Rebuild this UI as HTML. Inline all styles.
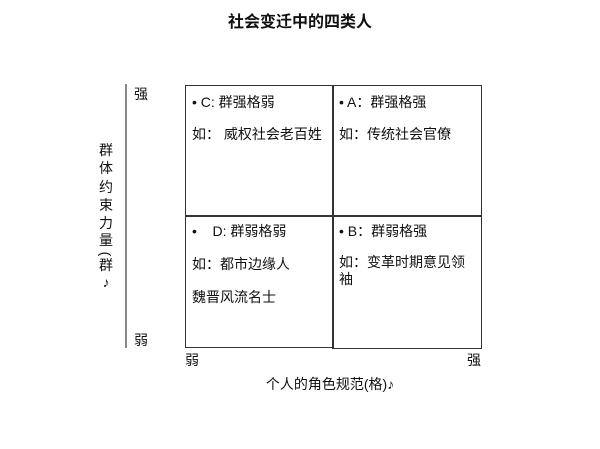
<!DOCTYPE html>
<html><head><meta charset="utf-8"><style>
body{margin:0;width:600px;height:449px;background:#fff;position:relative;font-family:"Liberation Sans","Noto Sans CJK SC",sans-serif;color:#111;overflow:hidden}
.a{position:absolute;white-space:nowrap;font-size:13px;line-height:16px}
.v{position:absolute;left:98px;width:16px;text-align:center;font-size:14px;line-height:16px}
.box{position:absolute;border:1.5px solid #333;box-sizing:border-box}
</style></head><body>
<div class="a" style="left:0;width:600px;text-align:center;top:13px;font-size:16px;font-weight:bold;line-height:20px">社会变迁中的四类人</div>
<div style="position:absolute;left:125px;top:84px;width:2px;height:264px;background:#888"></div>
<div class="box" style="left:185px;top:85px;width:149px;height:132px"></div>
<div class="box" style="left:332px;top:85px;width:150px;height:132px"></div>
<div class="box" style="left:185px;top:215px;width:149px;height:133px"></div>
<div class="box" style="left:332px;top:215px;width:150px;height:134px"></div>
<div class="a" style="left:192px;top:94px;font-size:14px">• C: 群强格弱</div>
<div class="a" style="left:192px;top:126px;font-size:14px">如： 威权社会老百姓</div>
<div class="a" style="left:339px;top:94px;font-size:14px">• A：群强格强</div>
<div class="a" style="left:339px;top:126px;font-size:14px">如：传统社会官僚</div>
<div class="a" style="left:192px;top:223px;font-size:14px">•&nbsp;&nbsp;&nbsp;&nbsp;D: 群弱格弱</div>
<div class="a" style="left:192px;top:256px;font-size:14px">如：都市边缘人</div>
<div class="a" style="left:192px;top:289px;font-size:14px">魏晋风流名士</div>
<div class="a" style="left:339px;top:223px;font-size:14px">• B：群弱格强</div>
<div class="a" style="left:339px;top:254px;font-size:14px">如：变革时期意见领</div>
<div class="a" style="left:339px;top:271px;font-size:14px">袖</div>
<div class="a" style="left:134px;top:86px;font-size:14px">强</div>
<div class="a" style="left:134px;top:332px;font-size:14px">弱</div>
<div class="a" style="left:185px;top:352px;font-size:14px">弱</div>
<div class="a" style="left:467px;top:352px;font-size:14px">强</div>
<div class="v" style="top:142px">群</div>
<div class="v" style="top:160px">体</div>
<div class="v" style="top:179px">约</div>
<div class="v" style="top:197px">束</div>
<div class="v" style="top:215px">力</div>
<div class="v" style="top:232px">量</div>
<div class="v" style="top:246px;transform:rotate(90deg)">(</div>
<div class="v" style="top:257px">群</div>
<div class="v" style="top:274px">♪</div>
<div class="a" style="left:0;width:660px;text-align:center;top:376px;font-size:14px">个人的角色规范(格)♪</div>
</body></html>
